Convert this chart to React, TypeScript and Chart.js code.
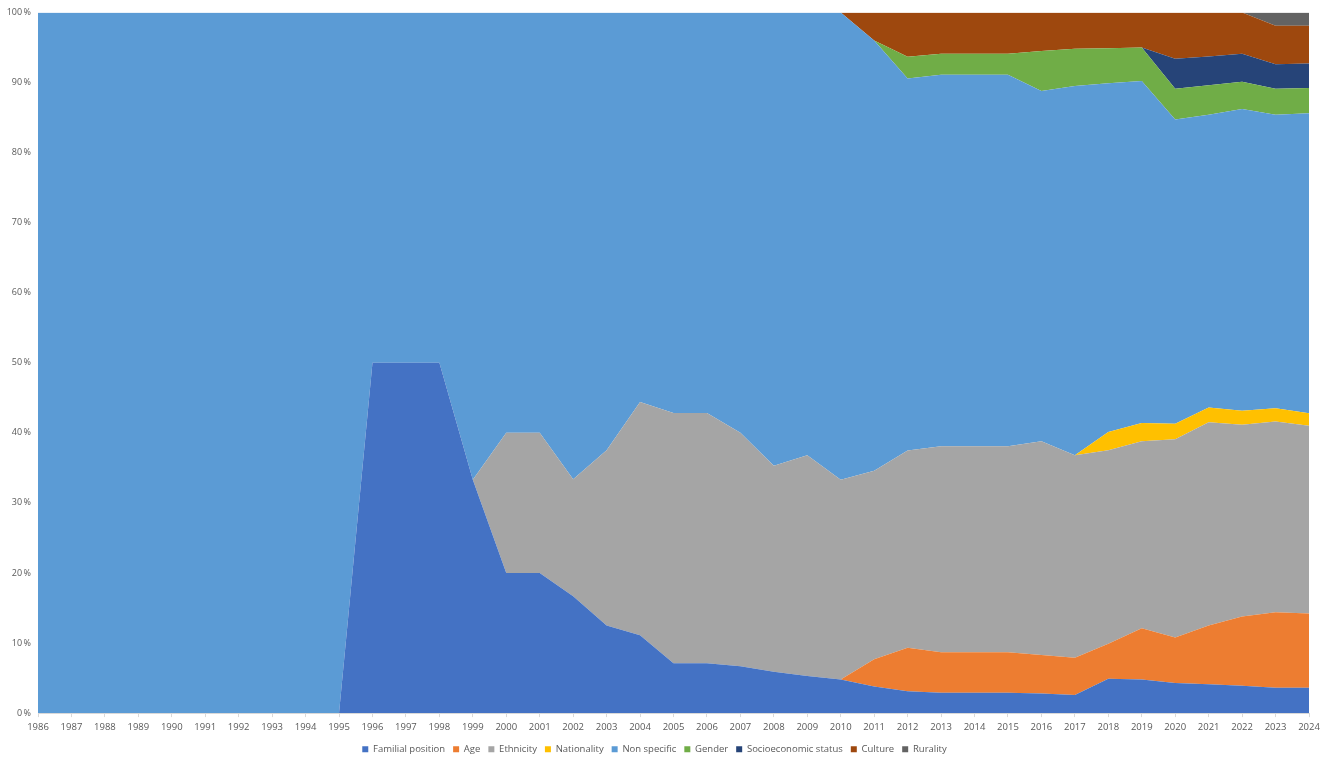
import React, { useEffect, useRef } from "react";
import { Chart, registerables } from "chart.js";

Chart.register(...registerables);

const years = [
  "1986", "1987", "1988", "1989", "1990", "1991", "1992", "1993", "1994", "1995",
  "1996", "1997", "1998", "1999", "2000", "2001", "2002", "2003", "2004", "2005",
  "2006", "2007", "2008", "2009", "2010", "2011", "2012", "2013", "2014", "2015",
  "2016", "2017", "2018", "2019", "2020", "2021", "2022", "2023", "2024",
];

const familialPosition = [
  0, 0, 0, 0, 0, 0, 0, 0, 0, 0,
  50, 50, 50, 33.3, 20, 20, 16.7, 12.5, 11.1, 7.1,
  7.1, 6.7, 5.9, 5.3, 4.8, 3.8, 3.1, 2.9, 2.9, 2.9,
  2.8, 2.6, 4.9, 4.8, 4.3, 4.1, 3.9, 3.6, 3.6,
];
const age = [
  0, 0, 0, 0, 0, 0, 0, 0, 0, 0,
  0, 0, 0, 0, 0, 0, 0, 0, 0, 0,
  0, 0, 0, 0, 0, 3.9, 6.2, 5.8, 5.8, 5.8,
  5.5, 5.3, 5.0, 7.3, 6.5, 8.4, 9.9, 10.8, 10.6,
];
const ethnicity = [
  0, 0, 0, 0, 0, 0, 0, 0, 0, 0,
  0, 0, 0, 0, 20, 20, 16.7, 25, 33.3, 35.7,
  35.7, 33.3, 29.4, 31.5, 28.5, 26.9, 28.1, 29.4, 29.4, 29.4,
  30.5, 28.9, 27.6, 26.7, 28.3, 29.0, 27.4, 27.2, 26.8,
];
const nationality = [
  0, 0, 0, 0, 0, 0, 0, 0, 0, 0,
  0, 0, 0, 0, 0, 0, 0, 0, 0, 0,
  0, 0, 0, 0, 0, 0, 0, 0, 0, 0,
  0, 0, 2.6, 2.6, 2.2, 2.1, 2.0, 1.9, 1.8,
];
const nonSpecific = [
  100, 100, 100, 100, 100, 100, 100, 100, 100, 100,
  50, 50, 50, 66.7, 60, 60, 66.7, 62.5, 55.6, 57.1,
  57.1, 60, 64.7, 63.2, 66.7, 61.4, 53.0, 53.0, 53.0, 53.0,
  50.0, 52.7, 49.8, 48.8, 43.4, 41.8, 43.1, 41.9, 42.8,
];
const gender = [
  0, 0, 0, 0, 0, 0, 0, 0, 0, 0,
  0, 0, 0, 0, 0, 0, 0, 0, 0, 0,
  0, 0, 0, 0, 0, 0, 3.1, 3.0, 3.0, 3.0,
  5.7, 5.3, 5.0, 4.8, 4.4, 4.2, 3.9, 3.7, 3.6,
];
const socioeconomicStatus = [
  0, 0, 0, 0, 0, 0, 0, 0, 0, 0,
  0, 0, 0, 0, 0, 0, 0, 0, 0, 0,
  0, 0, 0, 0, 0, 0, 0, 0, 0, 0,
  0, 0, 0, 0, 4.3, 4.1, 4.0, 3.5, 3.5,
];
const culture = [
  0, 0, 0, 0, 0, 0, 0, 0, 0, 0,
  0, 0, 0, 0, 0, 0, 0, 0, 0, 0,
  0, 0, 0, 0, 0, 4.0, 6.3, 5.9, 5.9, 5.9,
  5.5, 5.2, 5.1, 5.0, 6.6, 6.3, 5.9, 5.5, 5.4,
];
const rurality = [
  0, 0, 0, 0, 0, 0, 0, 0, 0, 0,
  0, 0, 0, 0, 0, 0, 0, 0, 0, 0,
  0, 0, 0, 0, 0, 0, 0, 0, 0, 0,
  0, 0, 0, 0, 0, 0, 0, 1.9, 1.9,
];

const seriesNames = [
  "Familial position", "Age", "Ethnicity", "Nationality", "Non specific",
  "Gender", "Socioeconomic status", "Culture", "Rurality",
];
const seriesValues = [
  familialPosition, age, ethnicity, nationality, nonSpecific,
  gender, socioeconomicStatus, culture, rurality,
];
const seriesColors = [
  "#4472C4", "#ED7D31", "#A5A5A5", "#FFC000", "#5B9BD5",
  "#70AD47", "#264478", "#9E480E", "#636363",
];

// 100% stacked: each year's values are converted to shares of that year's total
const totals = years.map((_, i) => seriesValues.reduce((s, arr) => s + arr[i], 0));
const shares = seriesValues.map((arr) => arr.map((v, i) => (totals[i] ? (v / totals[i]) * 100 : 0)));

export default function App() {
  const canvasRef = useRef<HTMLCanvasElement | null>(null);

  useEffect(() => {
    document.body.style.margin = "0";
    const canvas = canvasRef.current;
    if (!canvas) return;
    const font = { family: "'Open Sans', 'Noto Sans', sans-serif", size: 9.5 };
    const chart = new Chart(canvas, {
      type: "line",
      data: {
        labels: years,
        datasets: seriesNames.map((name, i) => ({
          label: name,
          data: shares[i],
          backgroundColor: seriesColors[i],
          borderColor: seriesColors[i],
          borderWidth: 0,
          pointRadius: 0,
          pointHoverRadius: 0,
          tension: 0,
          fill: i === 0 ? "origin" : "-1",
        })),
      },
      options: {
        animation: false,
        responsive: true,
        maintainAspectRatio: false,
        layout: { padding: { top: 2, right: 23, left: 0, bottom: -6 } },
        plugins: {
          legend: {
            position: "bottom",
            labels: {
              color: "#595959",
              font,
              usePointStyle: true,
              pointStyle: "rect",
              boxWidth: 6,
              boxHeight: 6,
              padding: 8,
            },
          },
          tooltip: { enabled: false },
        },
        scales: {
          x: {
            offset: false,
            grid: {
              display: true,
              drawOnChartArea: false,
              drawTicks: true,
              tickLength: 4,
              color: "#d9d9d9",
            },
            border: { display: true, color: "#d9d9d9" },
            ticks: {
              color: "#595959",
              font,
              autoSkip: false,
              maxRotation: 0,
              padding: 4,
            },
          },
          y: {
            stacked: true,
            min: 0,
            max: 100,
            afterFit: (scale) => {
              scale.width = 38;
            },
            grid: { display: false, drawTicks: false, tickLength: 0 },
            border: { display: false },
            ticks: {
              stepSize: 10,
              color: "#595959",
              font: { ...font, size: 9 },
              padding: 7,
              callback: (v) => `${v}\u2009%`,
            },
          },
        },
      },
    });
    return () => chart.destroy();
  }, []);

  return (
    <div style={{ width: 1332, height: 758, position: "relative" }}>
      <canvas ref={canvasRef} />
    </div>
  );
}
